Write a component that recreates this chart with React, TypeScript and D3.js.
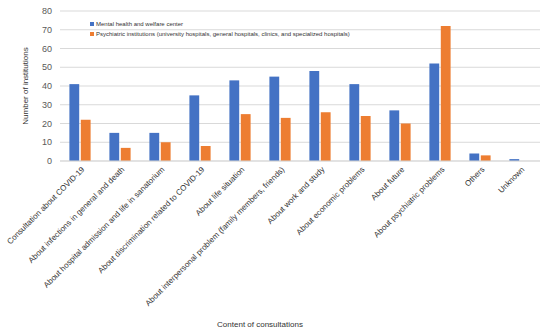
import React, { useEffect, useRef } from 'react';
import * as d3 from 'd3';

// categories and values
const categories = [
    'Consultation about COVID-19',
    'About infections in general and death',
    'About hospital admission and life in sanatorium',
    'About discrimination related to COVID-19',
    'About life situation',
    'About interpersonal problem (family members, friends)',
    'About work and study',
    'About economic problems',
    'About future',
    'About psychiatric problems',
    'Others',
    'Unknown',
];
const mentalHealth = [41, 15, 15, 35, 43, 45, 48, 41, 27, 52, 4, 1];
const psychiatric = [22, 7, 10, 8, 25, 23, 26, 24, 20, 72, 3, 0];
const seriesNames = [
    'Mental health and welfare center',
    'Psychiatric institutions (university hospitals, general hospitals, clinics, and specialized hospitals)',
];
const yTicks = [0, 10, 20, 30, 40, 50, 60, 70, 80];

const colors = ['#4472C4', '#ED7D31'];

const App = () => {
    const svgRef = useRef<SVGSVGElement>(null);

    useEffect(() => {
        const svg = d3.select(svgRef.current);
        svg.selectAll('*').remove();

        const width = 550;
        const height = 335;
        const left = 60, right = 540, top = 11, bottom = 161;
        const font = 'Liberation Sans, Arial, sans-serif';

        const x = d3.scaleBand().domain(categories).range([left, right]).paddingInner(0.47).paddingOuter(0.235);
        const sub = d3.scaleBand().domain(['0', '1']).range([0, x.bandwidth()]).paddingInner(0.14);
        const y = d3.scaleLinear().domain([0, 80]).range([bottom, top]);

        svg.attr('width', width).attr('height', height);
        svg.append('rect').attr('width', width).attr('height', height).attr('fill', '#fff');

        // gridlines
        svg.append('g')
            .selectAll('line')
            .data(yTicks)
            .enter()
            .append('line')
            .attr('x1', left)
            .attr('x2', right)
            .attr('y1', d => y(d))
            .attr('y2', d => y(d))
            .attr('stroke', '#d9d9d9')
            .attr('stroke-width', 1);

        // y tick labels
        svg.append('g')
            .selectAll('text')
            .data(yTicks)
            .enter()
            .append('text')
            .attr('x', 52)
            .attr('y', d => y(d))
            .attr('dy', '0.35em')
            .attr('text-anchor', 'end')
            .attr('font-family', font)
            .attr('font-size', 9)
            .attr('fill', '#595959')
            .text(d => d);

        // bars
        const series = [mentalHealth, psychiatric];
        series.forEach((vals, si) => {
            svg.append('g')
                .selectAll('rect')
                .data(vals)
                .enter()
                .append('rect')
                .attr('x', (_, i) => (x(categories[i]) as number) + (sub(String(si)) as number))
                .attr('y', d => y(d))
                .attr('width', sub.bandwidth())
                .attr('height', d => y(0) - y(d))
                .attr('fill', colors[si]);
        });

        // x axis line
        svg.append('line')
            .attr('x1', left).attr('x2', right)
            .attr('y1', y(0)).attr('y2', y(0))
            .attr('stroke', '#d9d9d9');

        // rotated category labels
        svg.append('g')
            .selectAll('text')
            .data(categories)
            .enter()
            .append('text')
            .attr('transform', d => `translate(${(x(d) as number) + x.bandwidth() / 2 + 3},${bottom + 7}) rotate(-45)`)
            .attr('text-anchor', 'end')
            .attr('dy', '0.35em')
            .attr('font-family', font)
            .attr('font-size', 8)
            .attr('fill', '#333')
            .text(d => d);

        // legend
        const legend = svg.append('g');
        seriesNames.forEach((name, i) => {
            legend.append('rect')
                .attr('x', 90)
                .attr('y', 22 + i * 10)
                .attr('width', 4)
                .attr('height', 4)
                .attr('fill', colors[i]);
            legend.append('text')
                .attr('x', 96)
                .attr('y', 24 + i * 10)
                .attr('dy', '0.35em')
                .attr('font-family', font)
                .attr('font-size', 6)
                .attr('fill', '#333')
                .text(name);
        });

        // axis titles
        svg.append('text')
            .attr('transform', `translate(25,${(top + bottom) / 2}) rotate(-90)`)
            .attr('text-anchor', 'middle')
            .attr('dy', '0.35em')
            .attr('font-family', font)
            .attr('font-size', 8)
            .attr('fill', '#333')
            .text('Number of institutions');

        svg.append('text')
            .attr('x', 260)
            .attr('y', 324)
            .attr('dy', '0.35em')
            .attr('text-anchor', 'middle')
            .attr('font-family', font)
            .attr('font-size', 8)
            .attr('fill', '#333')
            .text('Content of consultations');
    }, []);

    return (
        <svg ref={svgRef} width={550} height={335} style={{ position: 'absolute', left: 0, top: 0 }}></svg>
    );
};

export default App;
